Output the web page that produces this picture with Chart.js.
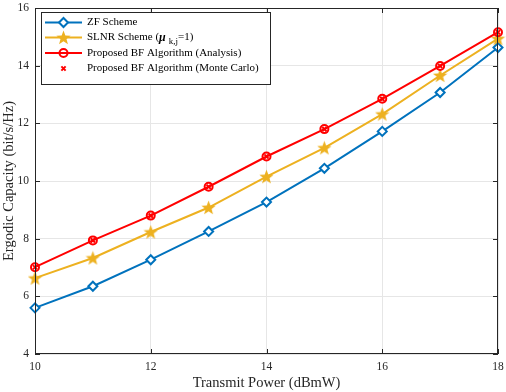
<!DOCTYPE html>
<html><head><meta charset="utf-8">
<script src="https://cdn.jsdelivr.net/npm/chart.js@4/dist/chart.umd.min.js"></script>
<style>html,body{margin:0;padding:0;background:#fff}</style>
</head><body>
<canvas id="c" width="506" height="392"></canvas>
<script>
const powers = [10, 11, 12, 13, 14, 15, 16, 17, 18];
const zfScheme = [5.60, 6.35, 7.27, 8.25, 9.27, 10.44, 11.72, 13.07, 14.63];
const slnrScheme = [6.63, 7.33, 8.23, 9.08, 10.15, 11.15, 12.32, 13.66, 14.94];
const bfAnalysis = [7.01, 7.94, 8.80, 9.80, 10.85, 11.80, 12.85, 13.99, 15.16];
const bfMonteCarlo = [7.01, 7.94, 8.80, 9.80, 10.85, 11.80, 12.85, 13.99, 15.16];
const xTicks = [10, 12, 14, 16, 18];
const yTicks = [4, 6, 8, 10, 12, 14, 16];

const BLUE = '#0072BD', GOLD = '#EDB120', RED = '#FF0000', AX = '#262626';
const FONT = '"Liberation Serif", "Times New Roman", serif';

// filled five-point star marker
function makeStar(size, color) {
  const cv = document.createElement('canvas');
  cv.width = size; cv.height = size;
  const g = cv.getContext('2d');
  const cx = size / 2, cy = size / 2 + 0.6, R = size / 2, r = R * 0.42;
  g.beginPath();
  for (let i = 0; i < 10; i++) {
    const rad = i % 2 === 0 ? R : r;
    const a = -Math.PI / 2 + i * Math.PI / 5;
    g.lineTo(cx + rad * Math.cos(a), cy + rad * Math.sin(a));
  }
  g.closePath();
  g.fillStyle = color; g.fill();
  return cv;
}
const starImg = makeStar(15, GOLD);

const pts = arr => powers.map((p, i) => ({x: p, y: arr[i]}));

const framePlugin = {
  id: 'frame',
  afterDraw(chart) {
    const {ctx, chartArea: a, scales} = chart;
    ctx.save();
    ctx.strokeStyle = AX; ctx.lineWidth = 1;
    ctx.strokeRect(a.left + 0.5, a.top + 0.5, a.right - a.left - 1, a.bottom - a.top - 1);
    const tl = 5;
    ctx.beginPath();
    xTicks.forEach(v => {
      const x = Math.round(scales.x.getPixelForValue(v)) + 0.5;
      ctx.moveTo(x, a.bottom); ctx.lineTo(x, a.bottom - tl);
      ctx.moveTo(x, a.top); ctx.lineTo(x, a.top + tl);
    });
    yTicks.forEach(v => {
      const y = Math.round(scales.y.getPixelForValue(v)) + 0.5;
      ctx.moveTo(a.left, y); ctx.lineTo(a.left + tl, y);
      ctx.moveTo(a.right, y); ctx.lineTo(a.right - tl, y);
    });
    ctx.stroke();
    ctx.restore();
  }
};

const legendPlugin = {
  id: 'mlegend',
  afterDraw(chart) {
    const ctx = chart.ctx;
    const ds = chart.data.datasets;
    const bx = 41.5, by = 12.5, bw = 229, bh = 72;
    ctx.save();
    ctx.fillStyle = '#fff';
    ctx.fillRect(bx, by, bw, bh);
    ctx.strokeStyle = AX; ctx.lineWidth = 1;
    ctx.strokeRect(bx, by, bw, bh);
    const rows = [22.5, 37.5, 53, 68.5];
    const x0 = 45, x1 = 82, xm = 63.5, tx = 87;
    ctx.font = '11px ' + FONT;
    ctx.textBaseline = 'middle';
    ds.forEach((d, i) => {
      const y = rows[i];
      if (d.showLine !== false) {
        ctx.strokeStyle = d.borderColor; ctx.lineWidth = d.borderWidth;
        ctx.beginPath(); ctx.moveTo(x0, y); ctx.lineTo(x1, y); ctx.stroke();
      }
      ctx.strokeStyle = d.pointBorderColor; ctx.fillStyle = d.pointBackgroundColor;
      ctx.lineWidth = d.pointBorderWidth;
      Chart.helpers.drawPoint(ctx, {pointStyle: d.pointStyle, radius: d.pointRadius, rotation: 0, borderWidth: d.pointBorderWidth}, xm, y);
      ctx.fillStyle = '#000';
      ctx.textAlign = 'left';
      if (i === 1) {
        let x = tx;
        const s1 = 'SLNR Scheme (';
        ctx.font = '11px ' + FONT; ctx.fillText(s1, x, y); x += ctx.measureText(s1).width;
        ctx.font = 'italic bold 12px ' + FONT; ctx.fillText('\u03bc', x, y); x += ctx.measureText('\u03bc').width + 3;
        ctx.font = '9px ' + FONT; ctx.fillText('k,j', x, y + 4); x += ctx.measureText('k,j').width;
        ctx.font = '11px ' + FONT; ctx.fillText('=1)', x, y);
      } else {
        ctx.fillText(d.label, tx, y);
      }
    });
    ctx.restore();
  }
};

Chart.defaults.font.family = FONT;
Chart.defaults.color = AX;

new Chart(document.getElementById('c'), {
  type: 'line',
  data: {
    datasets: [
      {label: 'ZF Scheme', data: pts(zfScheme), borderColor: BLUE, borderWidth: 2,
       pointStyle: 'rectRot', pointRadius: 4.5, pointBorderColor: BLUE, pointBackgroundColor: '#fff',
       pointBorderWidth: 2, order: 4, clip: false, tension: 0},
      {label: 'SLNR Scheme', data: pts(slnrScheme), borderColor: GOLD, borderWidth: 2,
       pointStyle: starImg, pointRadius: 7, pointBorderColor: GOLD, pointBackgroundColor: GOLD,
       pointBorderWidth: 1, order: 3, clip: false, tension: 0},
      {label: 'Proposed BF Algorithm (Analysis)', data: pts(bfAnalysis), borderColor: RED, borderWidth: 2,
       pointStyle: 'circle', pointRadius: 4, pointBorderColor: RED, pointBackgroundColor: 'rgba(255,255,255,0)',
       pointBorderWidth: 2, order: 2, clip: false, tension: 0},
      {label: 'Proposed BF Algorithm (Monte Carlo)', data: pts(bfMonteCarlo), showLine: false, borderColor: RED, borderWidth: 2,
       pointStyle: 'crossRot', pointRadius: 3, pointBorderColor: RED, pointBackgroundColor: RED,
       pointBorderWidth: 2, order: 1, clip: false}
    ]
  },
  options: {
    responsive: false, animation: false, devicePixelRatio: 1,
    layout: {padding: {left: 0, right: 8, top: 5, bottom: 0}},
    plugins: {legend: {display: false}, tooltip: {enabled: false}},
    scales: {
      x: {
        type: 'linear', min: 10, max: 18,
        afterBuildTicks: s => { s.ticks = xTicks.map(v => ({value: v})); },
        ticks: {font: {size: 11.5, family: FONT}, color: AX, padding: 6, maxRotation: 0},
        grid: {color: '#e6e6e6', drawTicks: false, lineWidth: 1},
        border: {display: false},
        title: {display: true, text: 'Transmit Power (dBmW)', font: {size: 14.5, family: FONT}, color: AX, padding: {top: 0, bottom: 0}},
        afterFit: s => { s.height = 38; s.paddingLeft = 0; s.paddingRight = 0; s.paddingTop = 0; s.paddingBottom = 0; }
      },
      y: {
        type: 'linear', min: 4, max: 16,
        afterBuildTicks: s => { s.ticks = yTicks.map(v => ({value: v})); },
        ticks: {font: {size: 11.5, family: FONT}, color: AX, padding: 6},
        grid: {color: '#e6e6e6', drawTicks: false, lineWidth: 1},
        border: {display: false},
        title: {display: true, text: 'Ergodic Capacity (bit/s/Hz)', font: {size: 14.5, family: FONT}, color: AX, padding: {top: 0, bottom: 0}},
        afterFit: s => { s.width = 35; s.paddingLeft = 0; s.paddingRight = 0; s.paddingTop = 0; s.paddingBottom = 0; }
      }
    }
  },
  plugins: [framePlugin, legendPlugin]
});
</script>
</body></html>
